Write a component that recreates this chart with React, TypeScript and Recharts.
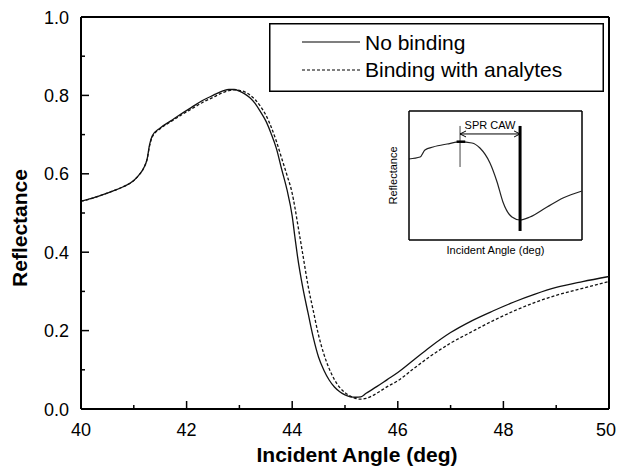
import React from "react";
import {
  LineChart,
  Line,
  XAxis,
  YAxis,
  Legend,
  ReferenceLine,
} from "recharts";

// incident angle (deg) shared by both curves
const angles = [
  40.0, 40.2, 40.4, 40.6, 40.8, 41.0, 41.1, 41.2, 41.25, 41.3, 41.35, 41.5,
  41.7, 41.9, 42.1, 42.3, 42.5, 42.7, 42.8, 42.9, 43.0, 43.1, 43.2, 43.3,
  43.4, 43.5, 43.6, 43.7, 43.8, 43.9, 44.0, 44.05, 44.1, 44.2, 44.3, 44.4,
  44.5, 44.6, 44.7, 44.8, 44.9, 45.0, 45.1, 45.2, 45.3, 45.4, 45.6, 45.8,
  46.0, 46.3, 46.6, 47.0, 47.4, 47.8, 48.2, 48.6, 49.0, 49.5, 50.0,
];

const noBinding = [
  0.53, 0.537, 0.546, 0.556, 0.567, 0.583, 0.597, 0.618, 0.636, 0.675, 0.697,
  0.717, 0.735, 0.753, 0.77, 0.787, 0.8, 0.812, 0.815, 0.815, 0.811, 0.804,
  0.794, 0.779, 0.758, 0.735, 0.703, 0.665, 0.612, 0.56, 0.492, 0.44, 0.39,
  0.31, 0.245, 0.182, 0.132, 0.099, 0.074, 0.056, 0.044, 0.036, 0.031, 0.03,
  0.031, 0.04, 0.057, 0.075, 0.093, 0.125, 0.157, 0.195, 0.225, 0.25, 0.273,
  0.293, 0.31, 0.325, 0.338,
];

const withAnalytes = [
  0.53, 0.537, 0.546, 0.556, 0.567, 0.583, 0.597, 0.618, 0.636, 0.672, 0.694,
  0.715, 0.733, 0.75, 0.766, 0.782, 0.795, 0.808, 0.812, 0.814, 0.813, 0.809,
  0.801, 0.789, 0.772, 0.75, 0.72, 0.683, 0.64, 0.597, 0.55, 0.515, 0.475,
  0.395, 0.315, 0.25, 0.188, 0.14, 0.103, 0.075, 0.055, 0.042, 0.033, 0.027,
  0.025, 0.027, 0.04, 0.057, 0.072, 0.103, 0.133, 0.168, 0.197, 0.225, 0.25,
  0.272, 0.29, 0.308, 0.325,
];

const seriesNames = ["No binding", "Binding with analytes"];

const xTicks = [40, 41, 42, 43, 44, 45, 46, 47, 48, 49, 50];
const yTicks = [0, 0.1, 0.2, 0.3, 0.4, 0.5, 0.6, 0.7, 0.8, 0.9, 1.0];

// inset sketch (arbitrary units)
const insetAngles = [
  0, 0.64, 0.92, 1.39, 2.2, 2.95, 3.64, 4.1, 4.68, 5.09, 5.43, 5.95, 6.42,
  6.99, 7.98, 8.9, 10,
];
const insetReflectance = [
  0.628, 0.643, 0.698, 0.721, 0.744, 0.76, 0.752, 0.713, 0.597, 0.45, 0.295,
  0.178, 0.155, 0.178, 0.256, 0.326, 0.38,
];
const peakAngle = 2.95;
const dipAngle = 6.42;

const FONT = '"Liberation Sans", Arial, Helvetica, sans-serif';

const mainData = angles.map((a, i) => ({
  angle: a,
  noBinding: noBinding[i],
  withAnalytes: withAnalytes[i],
}));

const insetData = insetAngles.map((a, i) => ({
  angle: a,
  r: insetReflectance[i],
}));

const XTick = (props: any) => {
  const { x, y, payload } = props;
  const major = payload.value % 2 === 0;
  const last = payload.value === 50;
  return (
    <g>
      <line x1={x} x2={x} y1={y} y2={y - (major ? 8 : 4)} stroke="#000" strokeWidth={1.5} />
      {major && (
        <text
          x={last ? 616 : x}
          y={y + 27}
          textAnchor={last ? "end" : "middle"}
          fontSize={18}
          fontFamily={FONT}
          fill="#000"
        >
          {payload.value}
        </text>
      )}
    </g>
  );
};

const YTick = (props: any) => {
  const { x, y, payload } = props;
  const major = Math.round(payload.value * 10) % 2 === 0;
  return (
    <g>
      <line x1={x} x2={x + (major ? 8 : 4)} y1={y} y2={y} stroke="#000" strokeWidth={1.5} />
      {major && (
        <text x={x - 12} y={y + 6.5} textAnchor="end" fontSize={18} fontFamily={FONT} fill="#000">
          {payload.value.toFixed(1)}
        </text>
      )}
    </g>
  );
};

const XTitle = ({ viewBox }: any) => (
  <text
    x={viewBox.x + viewBox.width / 2 + 12}
    y={viewBox.y + 53}
    textAnchor="middle"
    fontSize={21}
    fontWeight="bold"
    fontFamily={FONT}
    fill="#000"
  >
    Incident Angle (deg)
  </text>
);

const YTitle = () => (
  <text
    x={27}
    y={228}
    transform="rotate(-90, 27, 228)"
    textAnchor="middle"
    fontSize={21}
    fontWeight="bold"
    fontFamily={FONT}
    fill="#000"
  >
    Reflectance
  </text>
);

const LegendBox = (props: any) => {
  const rows = [...(props.payload || [])].sort(
    (a: any, b: any) => seriesNames.indexOf(a.value) - seriesNames.indexOf(b.value)
  );
  return (
    <svg width={335} height={69}>
      <rect x={0.75} y={0.75} width={333.5} height={67.5} fill="#fff" stroke="#000" strokeWidth={1.5} />
      {rows.map((entry: any, i: number) => (
        <g key={entry.value}>
          <line
            x1={33}
            x2={91}
            y1={19 + i * 28}
            y2={19 + i * 28}
            stroke="#000"
            strokeWidth={1.2}
            strokeDasharray={entry.payload?.strokeDasharray}
          />
          <text x={96} y={27 + i * 27} fontSize={21} fontFamily={FONT} fill="#000">
            {entry.value}
          </text>
        </g>
      ))}
    </svg>
  );
};

const CawArrow = (p: any) => {
  const { x1, y1, x2, y2 } = p;
  const h = 6;
  return (
    <g>
      <line x1={x1} y1={y1} x2={x2} y2={y2} stroke="#000" strokeWidth={1} />
      <polyline points={`${x1 + h},${y1 - 3} ${x1},${y1} ${x1 + h},${y1 + 3}`} fill="none" stroke="#000" strokeWidth={1} />
      <polyline points={`${x2 - h},${y2 - 3} ${x2},${y2} ${x2 - h},${y2 + 3}`} fill="none" stroke="#000" strokeWidth={1} />
      <text x={(x1 + x2) / 2} y={y1 - 5} textAnchor="middle" fontSize={11} fontFamily={FONT} fill="#000">
        SPR CAW
      </text>
    </g>
  );
};

const InsetXTitle = ({ viewBox }: any) => (
  <text
    x={viewBox.x + viewBox.width / 2}
    y={viewBox.y + 14}
    textAnchor="middle"
    fontSize={11}
    fontFamily={FONT}
    fill="#000"
  >
    Incident Angle (deg)
  </text>
);

const InsetYTitle = ({ viewBox }: any) => {
  const x = viewBox.x + 17;
  const y = viewBox.y + viewBox.height / 2;
  return (
    <text x={x} y={y} transform={`rotate(-90, ${x}, ${y})`} textAnchor="middle" fontSize={11} fontFamily={FONT} fill="#000">
      Reflectance
    </text>
  );
};

function Inset() {
  return (
    <LineChart
      width={215}
      height={165}
      data={insetData}
      margin={{ top: 6, right: 13, left: 0, bottom: 0 }}
    >
      <XAxis
        dataKey="angle"
        type="number"
        domain={[0, 10]}
        tick={false}
        tickLine={false}
        height={30}
        axisLine={{ stroke: "#000", strokeWidth: 1.5 }}
        label={<InsetXTitle />}
      />
      <YAxis
        type="number"
        domain={[0, 1]}
        tick={false}
        tickLine={false}
        width={29}
        axisLine={{ stroke: "#000", strokeWidth: 1.5 }}
        label={<InsetYTitle />}
      />
      <ReferenceLine y={1} stroke="#000" strokeWidth={1.5} />
      <ReferenceLine x={10} stroke="#000" strokeWidth={1.5} />
      <Line
        dataKey="r"
        type="monotone"
        stroke="#222"
        strokeWidth={1.2}
        dot={false}
        isAnimationActive={false}
      />
      <ReferenceLine
        segment={[{ x: peakAngle, y: 0.566 }, { x: peakAngle, y: 0.884 }]}
        stroke="#444"
        strokeWidth={1}
      />
      <ReferenceLine
        segment={[{ x: peakAngle - 0.2, y: 0.762 }, { x: peakAngle + 0.3, y: 0.762 }]}
        stroke="#000"
        strokeWidth={2.5}
      />
      <ReferenceLine
        segment={[{ x: dipAngle, y: 0.07 }, { x: dipAngle, y: 0.884 }]}
        stroke="#000"
        strokeWidth={3}
      />
      <ReferenceLine
        segment={[{ x: peakAngle, y: 0.822 }, { x: dipAngle, y: 0.822 }]}
        shape={<CawArrow />}
      />
    </LineChart>
  );
}

export default function App() {
  return (
    <div
      style={{
        position: "absolute",
        left: 0,
        top: 0,
        width: 617,
        height: 469,
        background: "#fff",
        fontFamily: FONT,
      }}
    >
      <LineChart
        width={617}
        height={469}
        data={mainData}
        margin={{ top: 17, right: 8, left: 0, bottom: 0 }}
      >
        <XAxis
          dataKey="angle"
          type="number"
          domain={[40, 50]}
          ticks={xTicks}
          interval={0}
          height={60}
          tickSize={0}
          tickMargin={0}
          tickLine={false}
          tick={<XTick />}
          axisLine={{ stroke: "#000", strokeWidth: 2 }}
          label={<XTitle />}
        />
        <YAxis
          type="number"
          domain={[0, 1]}
          ticks={yTicks}
          interval={0}
          width={81}
          tickSize={0}
          tickMargin={0}
          tickLine={false}
          tick={<YTick />}
          axisLine={{ stroke: "#000", strokeWidth: 2 }}
          label={<YTitle />}
        />
        <ReferenceLine y={1} stroke="#000" strokeWidth={2} />
        <ReferenceLine x={50} stroke="#000" strokeWidth={2} />
        <Line
          name={seriesNames[0]}
          dataKey="noBinding"
          type="monotone"
          stroke="#111"
          strokeWidth={1.3}
          dot={false}
          isAnimationActive={false}
        />
        <Line
          name={seriesNames[1]}
          dataKey="withAnalytes"
          type="monotone"
          stroke="#111"
          strokeWidth={1.3}
          strokeDasharray="3 2"
          dot={false}
          isAnimationActive={false}
        />
        <Legend
          layout="horizontal"
          verticalAlign="middle"
          align="center"
          wrapperStyle={{ position: "absolute", left: 269, top: 23, width: 335, height: 69 }}
          content={<LegendBox />}
        />
      </LineChart>
      <div style={{ position: "absolute", left: 380, top: 105 }}>
        <Inset />
      </div>
    </div>
  );
}
